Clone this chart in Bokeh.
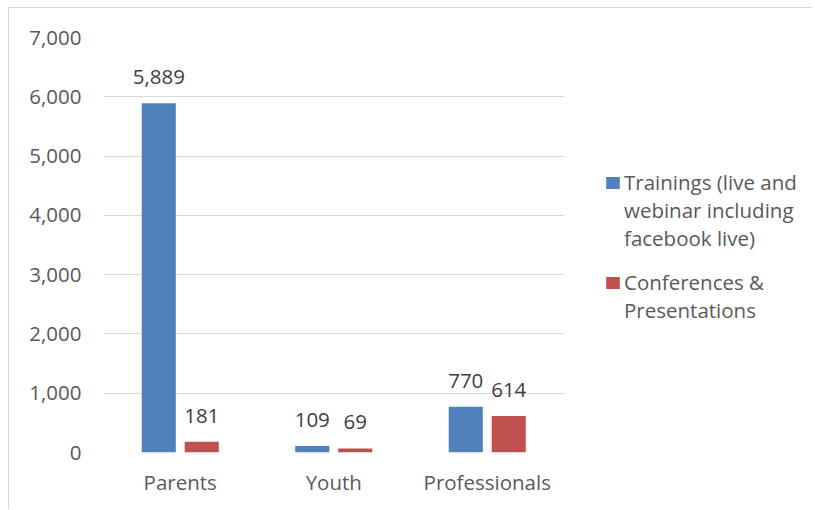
from bokeh.plotting import figure
from bokeh.models import ColumnDataSource, Range1d, NumeralTickFormatter, FixedTicker, Legend, LegendItem
from bokeh.transform import dodge
from bokeh.core.properties import value
from bokeh.embed import file_html
from bokeh.resources import INLINE

categories = ["Parents", "Youth", "Professionals"]
trainings = [5889, 109, 770]
conferences = [181, 69, 614]
trainings_labels = ["5,889", "109", "770"]
conferences_labels = ["181", "69", "614"]
series1_lines = ["Trainings (live and", "webinar including", "facebook live)"]
series2_lines = ["Conferences &", "Presentations"]
y_ticks = [0, 1000, 2000, 3000, 4000, 5000, 6000, 7000]

BLUE = "#4F81BD"
RED = "#C0504D"
FONT = "Open Sans"
FS = "20.5px"

W, H = 804, 502
B_LEFT, B_RIGHT, B_TOP, B_BOTTOM = 94, 1, 29, 58
FRAME_W = W - B_LEFT - B_RIGHT
CAT_PX = 460.5  # pixel span of the three categories
x_end = len(categories) * FRAME_W / CAT_PX

x_pos = [i + 0.5 for i in range(len(categories))]
src = ColumnDataSource(dict(x=x_pos, t=trainings, c=conferences,
                            tl=trainings_labels, cl=conferences_labels))

p = figure(x_range=Range1d(0, x_end), y_range=Range1d(0, 7000),
           width=W, height=H, output_backend="svg", toolbar_location=None,
           min_border_left=B_LEFT, min_border_right=B_RIGHT,
           min_border_top=B_TOP, min_border_bottom=B_BOTTOM)
p.styles = {"margin-left": "8px", "margin-top": "7px",
            "border-left": "1px solid #d9d9d9", "border-top": "1px solid #d9d9d9"}
p.outline_line_color = None

rb = p.vbar(x=dodge("x", -0.14), top="t", width=0.222, source=src,
            fill_color=BLUE, line_color=None)
rr = p.vbar(x=dodge("x", 0.14), top="c", width=0.222, source=src,
            fill_color=RED, line_color=None)

p.text(x=dodge("x", -0.14), y="t", text="tl", source=src,
       text_align="center", text_baseline="middle", y_offset=-26,
       text_font=value(FONT), text_font_size=FS, text_color="#404040")
p.text(x=dodge("x", 0.14), y="c", text="cl", source=src,
       text_align="center", text_baseline="middle", y_offset=-26,
       text_font=value(FONT), text_font_size=FS, text_color="#404040")

p.yaxis.ticker = FixedTicker(ticks=y_ticks)
p.yaxis.formatter = NumeralTickFormatter(format="0,0")
p.xaxis.ticker = FixedTicker(ticks=x_pos)
p.xaxis.major_label_overrides = {xv: c for xv, c in zip(x_pos, categories)}
for ax in (p.xaxis[0], p.yaxis[0]):
    ax.axis_line_color = None
    ax.major_tick_line_color = None
    ax.minor_tick_line_color = None
    ax.major_label_text_font = FONT
    ax.major_label_text_font_size = FS
    ax.major_label_text_color = "#595959"
p.yaxis.major_label_standoff = 16
p.xaxis.major_label_standoff = 9

p.xgrid.grid_line_color = None
p.ygrid.grid_line_color = "#d9d9d9"
p.ygrid.grid_line_width = 1
p.ygrid.cross_bounds = (0, len(categories))


def make_legend(lines, renderer, loc, lh):
    items = [LegendItem(label=lines[0], renderers=[renderer])]
    items += [LegendItem(label=s, renderers=[]) for s in lines[1:]]
    return Legend(items=items, location=loc, margin=0, padding=0, spacing=0,
                  border_line_color=None, background_fill_alpha=0,
                  label_text_font=FONT, label_text_font_size=FS, label_text_color="#595959",
                  label_height=lh, glyph_width=17, glyph_height=15, label_standoff=3)


p.add_layout(make_legend(series1_lines, rb, (501, 200), 28))
p.add_layout(make_legend(series2_lines, rr, (501, 128), 28))

open("out.html", "w").write(file_html(p, INLINE))
